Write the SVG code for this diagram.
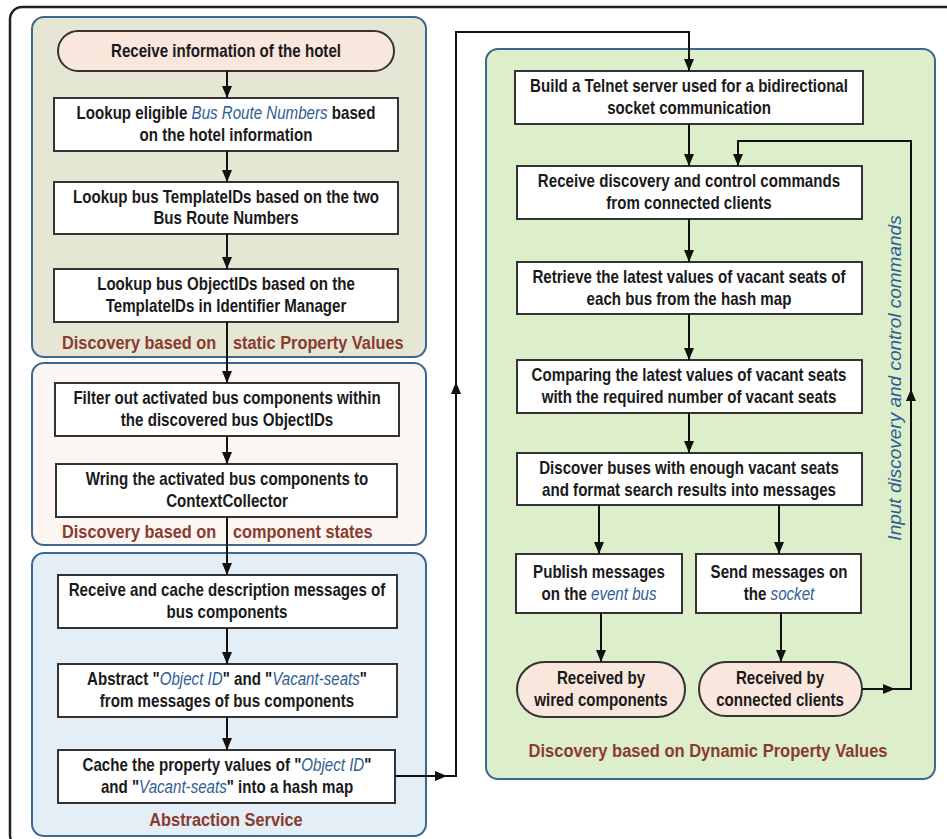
<svg xmlns="http://www.w3.org/2000/svg" width="947" height="839" viewBox="0 0 947 839">
  <defs>
    <marker id="arrow" markerUnits="userSpaceOnUse" markerWidth="12" markerHeight="10" refX="12" refY="5" orient="auto">
      <path d="M0,0 L12,5 L0,10 z" fill="#111"/>
    </marker>
    <style>
      .frame { fill: none; stroke: #222; stroke-width: 2.5; }
      .panel { stroke: #3d6690; stroke-width: 2; }
      .box { fill: #fff; stroke: #333; stroke-width: 2; }
      .pill { fill: #f9e6dc; stroke: #333; stroke-width: 2; }
      .t { font-family: "Liberation Sans", Arial, sans-serif; font-weight: bold; font-size: 18px; fill: #1a1a1a; text-anchor: middle; }
      .em { font-style: italic; font-weight: normal; fill: #2f5d95; }
      .lbl { font-family: "Liberation Sans", Arial, sans-serif; font-weight: bold; font-size: 19px; fill: #8a3b30; }
      .mid { text-anchor: middle; }
      .side { font-family: "Liberation Sans", Arial, sans-serif; font-style: italic; font-size: 19px; fill: #2f5d95; text-anchor: middle; }
      .conn { fill: none; stroke: #111; stroke-width: 2; }
    </style>
  </defs>

  <!-- outer frame -->
  <rect class="frame" x="10" y="7" width="960" height="840" rx="12"/>

  <!-- panels (labels use a condensed horizontal scale) -->
  <g id="panel-static">
    <rect class="panel" x="32" y="17" width="394" height="340" rx="12" fill="#e5e7d4"/>
    <text class="lbl" transform="translate(62,349) scale(0.86,1)">Discovery based on</text>
    <text class="lbl" transform="translate(233,349) scale(0.86,1)">static Property Values</text>
  </g>
  <g id="panel-states">
    <rect class="panel" x="32" y="363" width="394" height="182" rx="12" fill="#fcf6f2"/>
    <text class="lbl" transform="translate(62,538) scale(0.86,1)">Discovery based on</text>
    <text class="lbl" transform="translate(233,538) scale(0.86,1)">component states</text>
  </g>
  <g id="panel-abstraction">
    <rect class="panel" x="32" y="553" width="394" height="283" rx="12" fill="#e3eef6"/>
    <text class="lbl mid" transform="translate(226,826) scale(0.86,1)">Abstraction Service</text>
  </g>
  <g id="panel-dynamic">
    <rect class="panel" x="486" y="49" width="449" height="730" rx="12" fill="#ddefca"/>
    <text class="lbl mid" transform="translate(708,757) scale(0.87,1)">Discovery based on Dynamic Property Values</text>
  </g>

  <!-- left column nodes -->
  <g id="n-receive-hotel">
    <rect class="pill" x="58" y="31" width="336" height="40" rx="20"/>
    <text class="t" transform="translate(226,57) scale(0.84,1)">Receive information of the hotel</text>
  </g>
  <g id="n-lookup-routes">
    <rect class="box" x="54" y="98" width="344" height="53"/>
    <text class="t" transform="translate(226,119) scale(0.84,1)">Lookup eligible <tspan class="em">Bus Route Numbers</tspan> based</text>
    <text class="t" transform="translate(226,141) scale(0.84,1)">on the hotel information</text>
  </g>
  <g id="n-lookup-templates">
    <rect class="box" x="54" y="182" width="344" height="52"/>
    <text class="t" transform="translate(226,203) scale(0.84,1)">Lookup bus TemplateIDs based on the two</text>
    <text class="t" transform="translate(226,224) scale(0.84,1)">Bus Route Numbers</text>
  </g>
  <g id="n-lookup-objects">
    <rect class="box" x="54" y="269" width="344" height="53"/>
    <text class="t" transform="translate(226,290) scale(0.84,1)">Lookup bus ObjectIDs based on the</text>
    <text class="t" transform="translate(226,312) scale(0.84,1)">TemplateIDs in Identifier Manager</text>
  </g>
  <g id="n-filter">
    <rect class="box" x="55" y="383" width="344" height="53"/>
    <text class="t" transform="translate(227,404) scale(0.84,1)">Filter out activated bus components within</text>
    <text class="t" transform="translate(227,426) scale(0.84,1)">the discovered bus ObjectIDs</text>
  </g>
  <g id="n-wiring">
    <rect class="box" x="56" y="464" width="341" height="53"/>
    <text class="t" transform="translate(227,485) scale(0.84,1)">Wring the activated bus components to</text>
    <text class="t" transform="translate(227,507) scale(0.84,1)">ContextCollector</text>
  </g>
  <g id="n-cache-desc">
    <rect class="box" x="58" y="575" width="339" height="53"/>
    <text class="t" transform="translate(227,596) scale(0.84,1)">Receive and cache description messages of</text>
    <text class="t" transform="translate(227,618) scale(0.84,1)">bus components</text>
  </g>
  <g id="n-abstract">
    <rect class="box" x="58" y="664" width="339" height="53"/>
    <text class="t" transform="translate(227,685) scale(0.84,1)">Abstract "<tspan class="em">Object ID</tspan>" and "<tspan class="em">Vacant-seats</tspan>"</text>
    <text class="t" transform="translate(227,707) scale(0.84,1)">from messages of bus components</text>
  </g>
  <g id="n-cache-values">
    <rect class="box" x="58" y="750" width="337" height="53"/>
    <text class="t" transform="translate(227,771) scale(0.84,1)">Cache the property values of "<tspan class="em">Object ID</tspan>"</text>
    <text class="t" transform="translate(227,793) scale(0.84,1)">and "<tspan class="em">Vacant-seats</tspan>" into a hash map</text>
  </g>

  <!-- right column nodes -->
  <g id="n-telnet">
    <rect class="box" x="515" y="71" width="348" height="53"/>
    <text class="t" transform="translate(689,92) scale(0.84,1)">Build a Telnet server used for a bidirectional</text>
    <text class="t" transform="translate(689,114) scale(0.84,1)">socket communication</text>
  </g>
  <g id="n-commands">
    <rect class="box" x="517" y="166" width="345" height="53"/>
    <text class="t" transform="translate(689,187) scale(0.84,1)">Receive discovery and control commands</text>
    <text class="t" transform="translate(689,209) scale(0.84,1)">from connected clients</text>
  </g>
  <g id="n-retrieve">
    <rect class="box" x="517" y="262" width="345" height="52"/>
    <text class="t" transform="translate(689,283) scale(0.84,1)">Retrieve the latest values of vacant seats of</text>
    <text class="t" transform="translate(689,305) scale(0.84,1)">each bus from the hash map</text>
  </g>
  <g id="n-compare">
    <rect class="box" x="517" y="360" width="345" height="53"/>
    <text class="t" transform="translate(689,381) scale(0.84,1)">Comparing the latest values of vacant seats</text>
    <text class="t" transform="translate(689,403) scale(0.84,1)">with the required number of vacant seats</text>
  </g>
  <g id="n-discover">
    <rect class="box" x="517" y="453" width="345" height="52"/>
    <text class="t" transform="translate(689,474) scale(0.84,1)">Discover buses with enough vacant seats</text>
    <text class="t" transform="translate(689,496) scale(0.84,1)">and format search results into messages</text>
  </g>
  <g id="n-publish">
    <rect class="box" x="516" y="554" width="166" height="59"/>
    <text class="t" transform="translate(599,578) scale(0.84,1)">Publish messages</text>
    <text class="t" transform="translate(599,600) scale(0.84,1)">on the <tspan class="em">event bus</tspan></text>
  </g>
  <g id="n-send">
    <rect class="box" x="696" y="554" width="165" height="59"/>
    <text class="t" transform="translate(779,578) scale(0.84,1)">Send messages on</text>
    <text class="t" transform="translate(779,600) scale(0.84,1)">the <tspan class="em">socket</tspan></text>
  </g>
  <g id="n-wired">
    <rect class="pill" x="517" y="662" width="168" height="55" rx="27.5"/>
    <text class="t" transform="translate(601,684) scale(0.84,1)">Received by</text>
    <text class="t" transform="translate(601,706) scale(0.84,1)">wired components</text>
  </g>
  <g id="n-clients">
    <rect class="pill" x="699" y="662" width="163" height="54" rx="27"/>
    <text class="t" transform="translate(780,684) scale(0.84,1)">Received by</text>
    <text class="t" transform="translate(780,706) scale(0.84,1)">connected clients</text>
  </g>

  <text class="side" transform="translate(895,378) rotate(-90)" y="6">Input discovery and control commands</text>

  <!-- connectors -->
  <g id="connectors">
    <path class="conn" d="M227,71 V98" marker-end="url(#arrow)"/>
    <path class="conn" d="M227,151 V182" marker-end="url(#arrow)"/>
    <path class="conn" d="M227,234 V269" marker-end="url(#arrow)"/>
    <path class="conn" d="M227,322 V383" marker-end="url(#arrow)"/>
    <path class="conn" d="M227,436 V464" marker-end="url(#arrow)"/>
    <path class="conn" d="M227,517 V575" marker-end="url(#arrow)"/>
    <path class="conn" d="M227,628 V664" marker-end="url(#arrow)"/>
    <path class="conn" d="M227,717 V750" marker-end="url(#arrow)"/>

    <!-- hash map feeds the dynamic discovery loop -->
    <path class="conn" d="M395,776 H447" marker-end="url(#arrow)"/>
    <path class="conn" d="M445,776 H456 V382" marker-end="url(#arrow)"/>
    <path class="conn" d="M456,384 V32 H689 V71" marker-end="url(#arrow)"/>

    <path class="conn" d="M689,124 V166" marker-end="url(#arrow)"/>
    <path class="conn" d="M689,219 V262" marker-end="url(#arrow)"/>
    <path class="conn" d="M689,314 V360" marker-end="url(#arrow)"/>
    <path class="conn" d="M689,413 V453" marker-end="url(#arrow)"/>
    <path class="conn" d="M599,505 V554" marker-end="url(#arrow)"/>
    <path class="conn" d="M779,505 V554" marker-end="url(#arrow)"/>
    <path class="conn" d="M601,613 V662" marker-end="url(#arrow)"/>
    <path class="conn" d="M781,613 V662" marker-end="url(#arrow)"/>

    <!-- client commands return to the command receiver -->
    <path class="conn" d="M862,689 H895" marker-end="url(#arrow)"/>
    <path class="conn" d="M893,689 H911 V389" marker-end="url(#arrow)"/>
    <path class="conn" d="M911,391 V141 H738 V166" marker-end="url(#arrow)"/>
  </g>
</svg>
